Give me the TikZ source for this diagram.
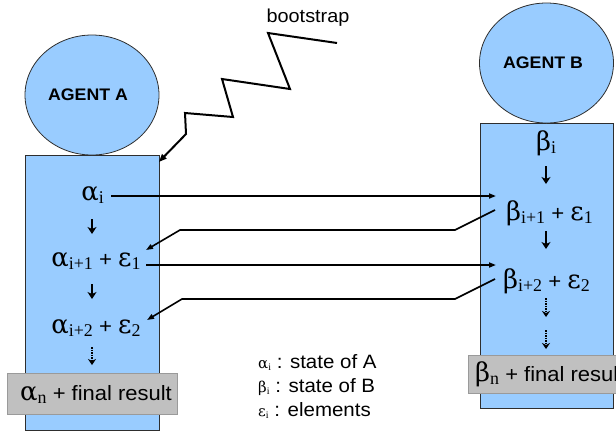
\documentclass[tikz,border=0pt]{standalone}
\usepackage{fontspec}
\setmainfont[FakeStretch=1.06]{Liberation Sans}
\newfontfamily\grk{DejaVu Serif}
\newfontfamily\idx{Liberation Serif}
\usetikzlibrary{shapes.geometric,arrows.meta,calc}
\definecolor{agentblue}{HTML}{99CCFF}
\definecolor{resultgray}{HTML}{C0C0C0}
\definecolor{resultedge}{HTML}{9A9A9A}
\definecolor{edgeline}{HTML}{2E2E2E}
% Greek symbol with a lowered serif index
\newcommand\gksize{26}
\newcommand\idxsize{18}
\newcommand\gk[2]{{\grk\fontsize{\gksize}{\gksize}\selectfont #1\raisebox{-0.14em}{\idx\fontsize{\idxsize}{\idxsize}\selectfont #2}}}
\begin{document}
\begin{tikzpicture}[x=1bp,y=-1bp,
  agent/.style={ellipse, draw=edgeline, fill=agentblue, line width=0.8bp,
    minimum width=134bp, minimum height=120bp, inner sep=0pt,
    font=\fontsize{16.8}{16.8}\selectfont\bfseries},
  column/.style={draw=edgeline, fill=agentblue, line width=0.8bp,
    inner sep=0pt, anchor=north west},
  result/.style={draw=resultedge, fill=resultgray, line width=0.8bp,
    inner sep=0pt, anchor=north west},
  state/.style={inner sep=0pt, anchor=base, font=\fontsize{21}{21}\selectfont},
  legendline/.style={inner sep=0pt, anchor=base west, font=\fontsize{19.4}{19.4}\selectfont},
  link/.style={line width=1.6bp, -{Triangle[length=7bp,width=5bp]}},
  flow/.style={line width=1.2bp, -{Stealth[length=7bp,width=9bp,inset=2bp]}},
  dflow/.style={line width=1.2bp, dash pattern=on 1.5bp off 1bp,
    -{Stealth[length=6bp,width=8bp,inset=2bp]}},
  zig/.style={line width=2bp, line join=miter, -{Triangle[length=8bp,width=6bp]}},
]
\useasboundingbox (0,0) rectangle (616,432);

% agent A: head and state column
\node[column, minimum width=134bp, minimum height=275bp] (colA) at (25,155) {};
\node[agent] (agA) at (92,95) {AGENT A\hspace*{8bp}};
\node[result, minimum width=170bp, minimum height=41bp] (resA) at (7,373) {};

% agent B: head and state column
\node[column, minimum width=133bp, minimum height=285bp] (colB) at (480,123) {};
\node[agent] (agB) at (546.5,63) {AGENT B\hspace*{7bp}};
\node[result, minimum width=160bp, minimum height=38bp] (resB) at (468,355) {};

% states of A
\node[state] (a0) at (92.5,200) {\gk{α}{i}};
\node[state] (a1) at (96,266) {\gk{α}{i+1} + \gk{ε}{1}};
\node[state] (a2) at (96,333) {\gk{α}{i+2} + \gk{ε}{2}};
\node[state, anchor=base west, font=\fontsize{20.8}{20.8}\selectfont] (an) at (20,400) {\gk{α}{n} + final result};

% states of B
\node[state] (b0) at (546,150) {\gk{β}{i}};
\node[state] (b1) at (549.5,220) {\gk{β}{i+1} + \gk{ε}{1}};
\node[state] (b2) at (546.5,288) {\gk{β}{i+2} + \gk{ε}{2}};
\node[state, anchor=base west, font=\fontsize{20.8}{20.8}\selectfont] (bn) at (475,381) {\gk{β}{n} + final result};

% steps inside each column
\draw[flow] (92,219) -- (92,234);
\draw[flow] (92,284) -- (92,299);
\draw[dflow] (92,347) -- (92,365);
\draw[flow] (546,166) -- (546,184);
\draw[flow] (546,231) -- (546,249);
\draw[dflow] (546,298) -- (546,317);
\draw[dflow] (546,330) -- (546,349);

% exchange ports
\coordinate (aOut0) at (111,196);
\coordinate (bIn1)  at (496,196);
\coordinate (bOut1) at (495,210);
\coordinate (aIn1)  at (146,250);
\coordinate (aOut1) at (146,265);
\coordinate (bIn2)  at (496,265);
\coordinate (bOut2) at (495,279);
\coordinate (aIn2)  at (147,320);

\draw[link] (aOut0) -- (bIn1);
\draw[link] (bOut1) -- (455,230) -- (180,230) -- (aIn1);
\draw[link] (aOut1) -- (bIn2);
\draw[link] (bOut2) -- (455,299) -- (182,299) -- (aIn2);

% bootstrap signal
\node[inner sep=0pt, font=\fontsize{18.8}{18.8}\selectfont] (boot) at (308,18) {bootstrap};
\coordinate (zigStart) at (337,43);
\draw[zig] (zigStart) -- (268,33) -- (290,89) -- (222,79) -- (233,117)
  -- (185,113) -- (186,134) -- ($(colA.north east)+(-1,7)$);

% legend
\begingroup
\renewcommand\gksize{15}
\renewcommand\idxsize{10}
\node[legendline] (legA) at (258,368) {\gk{α}{i} : state of A};
\node[legendline] (legB) at (258,392) {\gk{β}{i} : state of B};
\node[legendline] (legE) at (258,416) {\gk{ε}{i} : elements};
\endgroup
\end{tikzpicture}
\end{document}
